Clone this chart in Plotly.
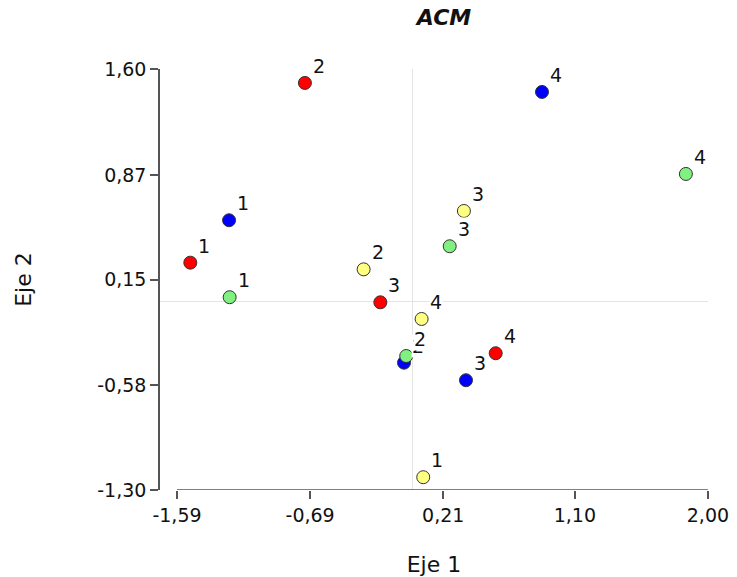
import plotly.graph_objects as go

# Data (Eje 1, Eje 2) per group
labels = ["1", "2", "3", "4"]
blue_x = [-1.238, -0.055, 0.364, 0.878]
blue_y = [0.558, -0.423, -0.544, 1.442]
red_x = [-1.500, -0.725, -0.215, 0.565]
red_y = [0.266, 1.504, -0.007, -0.358]
green_x = [-1.234, -0.040, 0.254, 1.851]
green_y = [0.028, -0.377, 0.379, 0.877]
yellow_x = [0.075, -0.328, 0.350, 0.064]
yellow_y = [-1.212, 0.220, 0.622, -0.122]

x_ticks = [-1.59, -0.69, 0.21, 1.10, 2.00]
x_ticktext = ["-1,59", "-0,69", "0,21", "1,10", "2,00"]
y_ticks = [-1.30, -0.58, 0.15, 0.87, 1.60]
y_ticktext = ["-1,30", "-0,58", "0,15", "0,87", "1,60"]

series = [
    ("azul", blue_x, blue_y, "#0000FF"),
    ("rojo", red_x, red_y, "#FF0000"),
    ("verde", green_x, green_y, "#80F080"),
    ("amarillo", yellow_x, yellow_y, "#FFFF80"),
]

FONT = "DejaVu Sans, Liberation Sans, Arial"
fig = go.Figure()
annotations = []
for name, xs, ys, col in series:
    fig.add_trace(go.Scatter(
        x=xs, y=ys, mode="markers", name=name,
        marker=dict(size=13, color=col, line=dict(color="#333333", width=1)),
        cliponaxis=False, showlegend=False,
    ))
    for xv, yv, lab in zip(xs, ys, labels):
        annotations.append(dict(
            x=xv, y=yv, xref="x", yref="y", text=lab, showarrow=False,
            xshift=14, yshift=17, bgcolor="white", borderpad=0,
            font=dict(family=FONT, size=19, color="#111111"),
        ))

# x axis baseline from first to last tick
shapes = [dict(type="line", xref="x", yref="y",
               x0=x_ticks[0], x1=x_ticks[-1], y0=y_ticks[0], y1=y_ticks[0],
               line=dict(color="#555555", width=1.5))]

px_per_unit = (708 - 177) / (x_ticks[-1] - x_ticks[0])
x_left = x_ticks[0] - (177 - 160) / px_per_unit

fig.update_layout(
    width=737, height=577, autosize=False,
    margin=dict(l=160, r=29, t=69, b=87),
    plot_bgcolor="white", paper_bgcolor="white",
    font=dict(family=FONT, color="#111111"),
    title=dict(text="<b><i>ACM</i></b>", x=444 / 737, xanchor="center",
               y=1 - 10 / 577, yanchor="top", yref="container",
               font=dict(size=22)),
    xaxis=dict(range=[x_left, x_ticks[-1] + 0.0005], tickvals=x_ticks, ticktext=x_ticktext,
               showgrid=False, showline=False, ticks="outside", ticklen=8,
               tickcolor="#555555", tickwidth=1.5, automargin=False,
               ticklabeloverflow="allow",
               tickfont=dict(size=19), zeroline=True, zerolinecolor="#e4e4e4",
               zerolinewidth=1,
               title=dict(text="Eje 1", font=dict(size=22), standoff=35)),
    yaxis=dict(range=[y_ticks[0], y_ticks[-1]], tickvals=y_ticks, ticktext=y_ticktext,
               showgrid=False, showline=True, linecolor="#555555", linewidth=1.5,
               ticks="outside", ticklen=8, tickcolor="#555555", tickwidth=1.5,
               automargin=False,
               tickfont=dict(size=19), zeroline=True, zerolinecolor="#e4e4e4",
               zerolinewidth=1,
               title=dict(text="Eje 2", font=dict(size=22), standoff=60)),
    annotations=annotations,
    shapes=shapes,
)

fig.write_html("out.html", config={"displayModeBar": False},
               post_script="document.body.style.margin='0';")
